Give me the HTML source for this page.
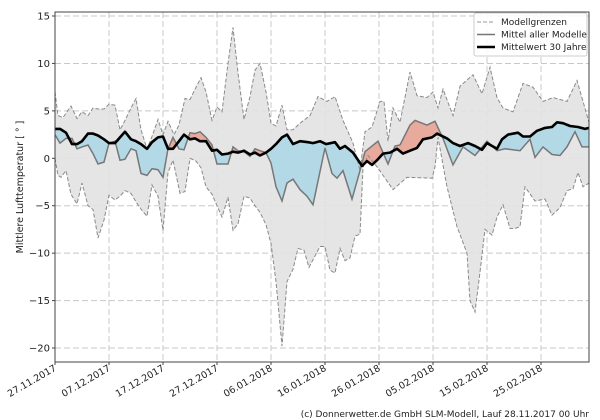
<!DOCTYPE html>
<html><head><meta charset="utf-8"><style>
html,body{margin:0;padding:0;background:#fff;}
svg{display:block;font-family:"DejaVu Sans","Liberation Sans",sans-serif;}
</style></head><body>
<svg id="c" width="600" height="420" xmlns="http://www.w3.org/2000/svg"></svg>
<script>
const L=55,R=589,T=12,B=362;
const Y=v=>158.3-v*9.486;
const up=[[55,7],[58,4.5],[63,4.3],[71,5.5],[77,4.2],[82,4.9],[88,4.5],[93,5.3],[98,5.2],[104,5.2],[109,5.7],[115,5.6],[120,3],[125,4],[131,5.3],[136,6.3],[141,3],[147,1],[152,2.3],[158,4.1],[163,2.5],[168,3.9],[174,2.5],[179,3.5],[185,6.3],[190,6.2],[196,7.5],[201,8.5],[206,7],[212,4],[217,5.4],[222,4.9],[228,10],[233,13.8],[238,9],[244,4.1],[250,6.5],[255,9.3],[260,10],[266,7],[271,3.7],[276,3.4],[282,5.6],[287,3],[293,3],[300,3.7],[310,4.5],[318,6.5],[327,6],[335,6.5],[343,4],[353,1.6],[360,-1.3],[365,2.8],[372,3.3],[380,6],[384,6],[388,1.8],[393,5.3],[400,3.8],[410,9.1],[417,6.6],[427,6.4],[433,7],[438,5.3],[443,7.3],[453,4.5],[460,7.6],[473,8.8],[482,6.8],[490,9.6],[497,6.4],[503,5.3],[513,4.9],[523,7.9],[533,7.5],[543,6],[553,6.4],[567,6],[577,8.2],[589,3.8]];
const lo=[[55,0],[58,-1.8],[61,-2],[66,-1.3],[71,-3.8],[77,-4.8],[82,-2.6],[88,-5],[93,-5.4],[98,-8.4],[104,-6.5],[109,-3.9],[115,-4.4],[120,-4],[125,-3.4],[131,-3.7],[136,-4.6],[142,-5.5],[147,-6.1],[152,-2.8],[158,-4],[163,-7.6],[168,-1.5],[173,-0.2],[180,-3.7],[185,-3.5],[190,0],[196,-0.3],[201,-1],[206,-3],[212,-3.8],[217,-5],[222,-6.2],[228,-4.1],[233,-7.6],[238,-6.9],[244,-4],[250,-4.2],[255,-5],[260,-5.7],[266,-7],[271,-9],[276,-13],[282,-19.8],[287,-13],[293,-11.7],[298,-9.5],[304,-9.7],[309,-11.5],[314,-10.5],[320,-9.3],[325,-9.3],[330,-11.8],[335,-12.1],[340,-9.5],[345,-10.8],[350,-10.5],[355,-8.2],[360,-8],[363,-1],[368,0.3],[377,-0.9],[393,-3.3],[407,-2],[432,-2.1],[435,-0.9],[438,2.2],[447,-3],[457,-7.2],[467,-10],[470,-15],[475,-16.2],[480,-12],[485,-7.5],[492,-8.1],[497,-6.2],[503,-4.9],[510,-7.4],[515,-7.4],[520,-7.2],[525,-3],[535,-4.5],[545,-4.3],[552,-6],[560,-5.2],[567,-3.4],[573,-3.2],[578,-1.5],[583,-3],[589,-2.6]];
const mm=[[55,2.5],[60,1.6],[66,2.1],[72,2.1],[77,1],[82,1.2],[88,1.4],[93,0.5],[98,-0.6],[104,-0.4],[109,1.6],[115,1.8],[120,-0.2],[125,-0.1],[131,1],[136,0.8],[141,-1.6],[147,-1.8],[152,-1.1],[158,-1.2],[163,-2],[168,1],[173,2.2],[179,1],[184,0.9],[190,2.7],[195,2.6],[200,2.8],[206,2.2],[212,1.4],[217,-0.6],[222,-0.6],[228,-0.6],[233,1.2],[238,0.8],[244,0.7],[250,0.2],[255,1],[260,0.8],[266,0.6],[271,-0.5],[276,-3],[282,-4.5],[287,-2.6],[293,-2.2],[300,-3.3],[307,-4],[313,-4.9],[325,1.1],[332,-1.6],[337,-2.1],[343,-1.3],[352,-4.3],[360,-1.3],[365,0.7],[378,1.8],[388,-0.6],[395,1.3],[400,1.4],[410,3.5],[415,4],[427,3.5],[435,3.9],[443,2.1],[453,-0.7],[463,1.2],[475,0.3],[487,1.8],[497,0.8],[505,1],[520,0.8],[530,2],[535,0.1],[543,1.2],[552,0.4],[560,0.3],[567,1.2],[575,2.8],[582,1.2],[589,1.2]];
const bk=[[55,3.1],[60,3.1],[66,2.7],[72,1.5],[77,1.5],[82,1.8],[88,2.6],[93,2.6],[98,2.4],[104,2],[109,1.6],[115,1.6],[120,2.2],[125,2.8],[131,2],[136,1.8],[141,1.5],[147,1],[152,1.7],[158,2.2],[163,2.3],[168,1],[173,1],[179,1.8],[184,2.5],[190,2],[195,2.1],[200,1.8],[206,1.8],[212,0.8],[217,0.9],[222,0.4],[228,0.5],[233,0.7],[238,0.6],[244,0.8],[250,0.4],[255,0.6],[260,0.3],[266,0.6],[271,1],[276,1.5],[282,2.2],[287,2.5],[293,1.5],[300,1.8],[308,1.7],[313,1.6],[320,1.8],[326,1.5],[335,1.7],[340,1],[345,1.3],[353,0.6],[362,-0.8],[367,-0.3],[372,-0.7],[377,-0.2],[383,0.5],[390,0.6],[397,1],[403,0.5],[410,0.8],[417,1.1],[423,2],[432,2.2],[437,2.6],[447,2.1],[453,1.6],[460,1.3],[468,1.6],[475,1.3],[482,0.9],[487,1.6],[497,1],[502,2],[508,2.5],[518,2.7],[523,2.3],[530,2.3],[537,2.9],[545,3.2],[552,3.3],[557,3.8],[563,3.7],[570,3.4],[578,3.3],[585,3.1],[589,3.2]];
const pts=a=>a.map(p=>p[0]+','+Y(p[1]).toFixed(1)).join(' ');
const rev=a=>a.slice().reverse();
let s='';
s+='<rect x="0" y="0" width="600" height="420" fill="#fff"/>';
s+='<defs><clipPath id="pa"><rect x="'+L+'" y="'+T+'" width="'+(R-L)+'" height="'+(B-T)+'"/></clipPath>';
s+='<clipPath id="ab"><polygon points="'+pts(bk)+' '+R+','+T+' '+L+','+T+'"/></clipPath>';
s+='<clipPath id="be"><polygon points="'+pts(bk)+' '+R+','+B+' '+L+','+B+'"/></clipPath></defs>';
let g='';
for(let v=-20;v<=15;v+=5){g+='<line x1="'+L+'" x2="'+R+'" y1="'+Y(v)+'" y2="'+Y(v)+'" stroke="#c8c8c8" stroke-dasharray="6,3"/>';}
for(let i=1;i<=9;i++){const x=55+i*54;g+='<line x1="'+x+'" x2="'+x+'" y1="'+T+'" y2="'+B+'" stroke="#c8c8c8" stroke-dasharray="6,3"/>';}
s+=g;
s+='<g clip-path="url(#pa)">';
s+='<polygon points="'+pts(up)+' '+pts(rev(lo))+'" fill="#e2e2e2" fill-opacity="0.9"/>';
const band=pts(mm)+' '+pts(rev(bk));
s+='<polygon points="'+band+'" fill="#e8aa9c" clip-path="url(#ab)"/>';
s+='<polygon points="'+band+'" fill="#b4d9e6" clip-path="url(#be)"/>';
s+='<polyline points="'+pts(up)+'" fill="none" stroke="#8a8a8a" stroke-width="1" stroke-dasharray="4,2"/>';
s+='<polyline points="'+pts(lo)+'" fill="none" stroke="#8a8a8a" stroke-width="1" stroke-dasharray="4,2"/>';
s+='<polyline points="'+pts(mm)+'" fill="none" stroke="#777" stroke-width="1.5"/>';
s+='<polyline points="'+pts(bk)+'" fill="none" stroke="#000" stroke-width="2.6" stroke-linejoin="round"/>';
s+='</g>';
s+='<rect x="'+L+'" y="'+T+'" width="'+(R-L)+'" height="'+(B-T)+'" fill="none" stroke="#444" stroke-width="1"/>';
for(let v=-20;v<=15;v+=5){const y=Y(v);s+='<line x1="'+(L-3)+'" x2="'+L+'" y1="'+y+'" y2="'+y+'" stroke="#444"/>';
s+='<text x="'+(L-5)+'" y="'+(y+3.5)+'" font-size="10" text-anchor="end" fill="#222">'+(v<0?'\u2212'+(-v):v)+'</text>';}
const labs=['27.11.2017','07.12.2017','17.12.2017','27.12.2017','06.01.2018','16.01.2018','26.01.2018','05.02.2018','15.02.2018','25.02.2018'];
labs.forEach((t,i)=>{const x=55+i*54;s+='<line x1="'+x+'" x2="'+x+'" y1="'+B+'" y2="'+(B+3)+'" stroke="#444"/>';
s+='<text transform="translate('+(x+2)+','+(B+8)+') rotate(-30)" font-size="9.5" text-anchor="end" fill="#222">'+t+'</text>';});
s+='<text transform="translate(23,187) rotate(-90)" font-size="9.5" text-anchor="middle" fill="#222">Mittlere Lufttemperatur [ ° ]</text>';
s+='<rect x="474" y="13" width="113" height="43" fill="#fff" fill-opacity="0.85" stroke="#ccc" rx="2"/>';
s+='<line x1="477" x2="495" y1="22" y2="22" stroke="#999" stroke-dasharray="4,2"/><text x="501" y="25" font-size="9" fill="#222">Modellgrenzen</text>';
s+='<line x1="477" x2="495" y1="34.5" y2="34.5" stroke="#777" stroke-width="1.5"/><text x="501" y="37.5" font-size="9" fill="#222">Mittel aller Modelle</text>';
s+='<line x1="477" x2="495" y1="47" y2="47" stroke="#000" stroke-width="2.6"/><text x="501" y="50" font-size="9" fill="#222">Mittelwert 30 Jahre</text>';
s+='<text x="589" y="417" font-size="9" text-anchor="end" fill="#222">(c) Donnerwetter.de GmbH SLM-Modell, Lauf 28.11.2017 00 Uhr</text>';
document.getElementById('c').innerHTML=s;
</script>
</body></html>
